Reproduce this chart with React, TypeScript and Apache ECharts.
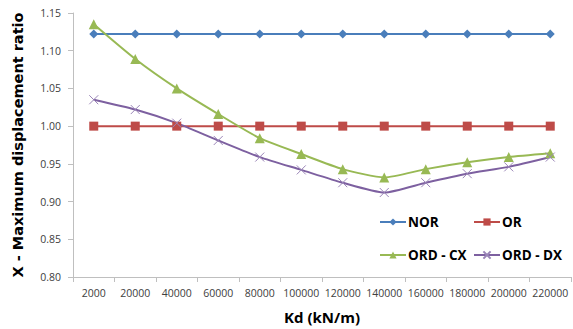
import React, { useEffect, useRef } from "react";
import * as echarts from "echarts";

const categories = ["2000", "20000", "40000", "60000", "80000", "100000", "120000", "140000", "160000", "180000", "200000", "220000"];
const norValues = [1.122, 1.122, 1.122, 1.122, 1.122, 1.122, 1.122, 1.122, 1.122, 1.122, 1.122, 1.122];
const orValues = [1.0, 1.0, 1.0, 1.0, 1.0, 1.0, 1.0, 1.0, 1.0, 1.0, 1.0, 1.0];
const ordCxValues = [1.135, 1.089, 1.05, 1.016, 0.984, 0.963, 0.943, 0.932, 0.943, 0.952, 0.959, 0.964];
const ordDxValues = [1.035, 1.022, 1.004, 0.981, 0.959, 0.942, 0.925, 0.912, 0.925, 0.937, 0.946, 0.959];
const seriesNames = ["NOR", "OR", "ORD - CX", "ORD - DX"];

const FONT = "'Open Sans', 'Liberation Sans', sans-serif";

export default function App() {
  const ref = useRef<HTMLDivElement>(null);
  useEffect(() => {
    if (!ref.current) return;
    const chart = echarts.init(ref.current, null, { renderer: "svg" });
    const legendBase = {
      orient: "horizontal",
      itemWidth: 26,
      itemHeight: 9,
      itemGap: 4,
      textStyle: { fontFamily: FONT, fontSize: 13.5, fontWeight: "bold", color: "#000", padding: [0, 0, 0, -3] },
    };
    chart.setOption({
      animation: false,
      backgroundColor: "#fff",
      grid: { left: 73, right: 2, top: 13, bottom: 52, containLabel: false },
      legend: [
        { ...legendBase, data: [seriesNames[0]], left: 374, top: 210 },
        { ...legendBase, data: [seriesNames[1]], left: 468, top: 210 },
        { ...legendBase, data: [seriesNames[2]], left: 374, top: 243 },
        { ...legendBase, data: [seriesNames[3]], left: 468, top: 243 },
      ],
      xAxis: {
        type: "category",
        data: categories,
        boundaryGap: true,
        name: "Kd (kN/m)",
        nameLocation: "middle",
        nameGap: 32,
        nameTextStyle: { fontFamily: FONT, fontSize: 15, fontWeight: "bold", color: "#000" },
        axisLine: { lineStyle: { color: "#bfbfbf", width: 1 } },
        axisTick: { show: true, alignWithLabel: false, length: 5, lineStyle: { color: "#bfbfbf" } },
        axisLabel: { fontFamily: FONT, fontSize: 10.5, color: "#404040", margin: 10, interval: 0 },
        splitLine: { show: false },
      },
      yAxis: {
        type: "value",
        min: 0.8,
        max: 1.15,
        interval: 0.05,
        name: "X - Maximum displacement ratio",
        nameLocation: "middle",
        nameGap: 48,
        nameRotate: 90,
        nameTextStyle: { fontFamily: "'DejaVu Sans', sans-serif", fontSize: 14.5, fontWeight: "bold", color: "#000" },
        axisLine: { show: true, lineStyle: { color: "#bfbfbf", width: 1 } },
        axisTick: { show: true, length: 5, lineStyle: { color: "#bfbfbf" } },
        axisLabel: {
          fontFamily: FONT,
          fontSize: 10.5,
          color: "#404040",
          margin: 12,
          formatter: (v: number) => v.toFixed(2),
        },
        splitLine: { show: false },
      },
      series: [
        {
          name: seriesNames[0],
          type: "line",
          data: norValues,
          symbol: "diamond",
          symbolSize: 9,
          color: "#4a7ebb",
          lineStyle: { width: 2, color: "#4a7ebb" },
          itemStyle: { color: "#4a7ebb" },
        },
        {
          name: seriesNames[1],
          type: "line",
          data: orValues,
          symbol: "rect",
          symbolSize: 9,
          color: "#be4b48",
          lineStyle: { width: 2, color: "#be4b48" },
          itemStyle: { color: "#be4b48" },
        },
        {
          name: seriesNames[2],
          type: "line",
          data: ordCxValues,
          symbol: "triangle",
          symbolSize: 10,
          smooth: 0.2,
          color: "#98b954",
          lineStyle: { width: 2, color: "#98b954" },
          itemStyle: { color: "#98b954" },
        },
        {
          name: seriesNames[3],
          type: "line",
          data: ordDxValues,
          symbol: "path://M0,0L10,10M10,0L0,10",
          symbolSize: 9,
          smooth: 0.2,
          color: "#7d60a0",
          lineStyle: { width: 2, color: "#7d60a0" },
          itemStyle: { color: "#7d60a0", borderColor: "#9b86b8", borderWidth: 1 },
        },
      ],
    });
    return () => chart.dispose();
  }, []);
  return <div ref={ref} style={{ width: 573, height: 329, position: "absolute", left: 0, top: 0 }} />;
}
